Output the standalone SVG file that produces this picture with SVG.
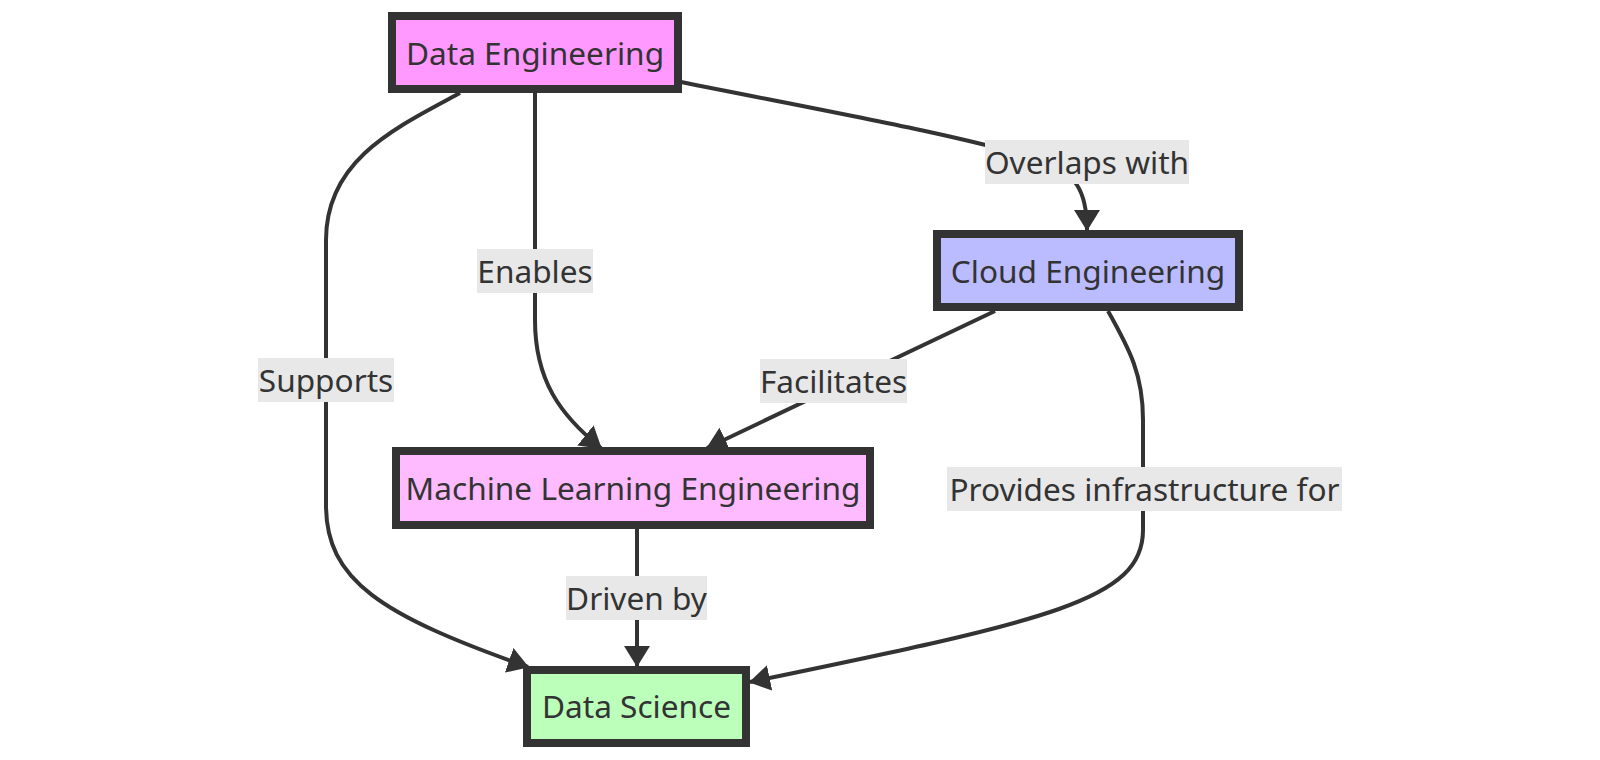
<svg xmlns="http://www.w3.org/2000/svg" width="1600" height="760" viewBox="0 0 1600 760">
<style>
  .node rect { stroke: #333333; stroke-width: 8; }
  .node text, .label text { font-family: "Noto Sans", "Open Sans", sans-serif; font-size: 31.6px; fill: #333333; text-anchor: middle; }
  .edge { fill: none; stroke: #333333; stroke-width: 4; }
  .label rect { fill: #e8e8e8; }
</style>
<defs>
  <marker id="arrow" viewBox="0 0 21 26" markerWidth="21" markerHeight="26" refX="20" refY="13" orient="auto" markerUnits="userSpaceOnUse">
    <path d="M0,0 L21,13 L0,26 z" fill="#333333"/>
  </marker>
</defs>
<rect width="1600" height="760" fill="#ffffff"/>
<g id="connectors">
  <path class="edge" d="M460,93 C395,128 326,160 326,240 L326,505 C326,580 380,615 528,667" marker-end="url(#arrow)"/>
  <path class="edge" d="M535,93 L535,320 C535,380 560,415 601,448" marker-end="url(#arrow)"/>
  <path class="edge" d="M681,82 C820,110 960,135 1040,160 C1075,172 1087,190 1087,230" marker-end="url(#arrow)"/>
  <path class="edge" d="M995,311 L707,448" marker-end="url(#arrow)"/>
  <path class="edge" d="M1108,311 C1130,350 1143,375 1143,420 L1143,530 C1143,600 1050,620 750,682" marker-end="url(#arrow)"/>
  <path class="edge" d="M637,529 L637,666" marker-end="url(#arrow)"/>
</g>
<g id="edge-labels">
  <g class="label" id="label-supports"><rect x="258" y="358" width="136" height="44"/><text x="326" y="392">Supports</text></g>
  <g class="label" id="label-enables"><rect x="477" y="249" width="116" height="44"/><text x="535" y="283">Enables</text></g>
  <g class="label" id="label-overlaps"><rect x="985" y="140" width="204" height="44"/><text x="1087" y="174">Overlaps with</text></g>
  <g class="label" id="label-facilitates"><rect x="760" y="359" width="147" height="44"/><text x="833.5" y="393">Facilitates</text></g>
  <g class="label" id="label-provides"><rect x="947" y="467" width="395" height="44"/><text x="1144.5" y="501">Provides infrastructure for</text></g>
  <g class="label" id="label-driven"><rect x="566" y="576" width="141" height="44"/><text x="636.5" y="610">Driven by</text></g>
</g>
<g class="node" id="node-data-engineering"><rect x="392" y="16" width="286" height="73" fill="#ff99ff"/><text x="535" y="65">Data Engineering</text></g>
<g class="node" id="node-cloud-engineering"><rect x="937" y="234" width="302" height="73" fill="#bbbbff"/><text x="1088" y="283">Cloud Engineering</text></g>
<g class="node" id="node-ml-engineering"><rect x="396" y="451" width="474" height="74" fill="#ffbbff"/><text x="633" y="500">Machine Learning Engineering</text></g>
<g class="node" id="node-data-science"><rect x="527" y="670" width="219" height="73" fill="#bbffbb"/><text x="636.5" y="718">Data Science</text></g>
</svg>
